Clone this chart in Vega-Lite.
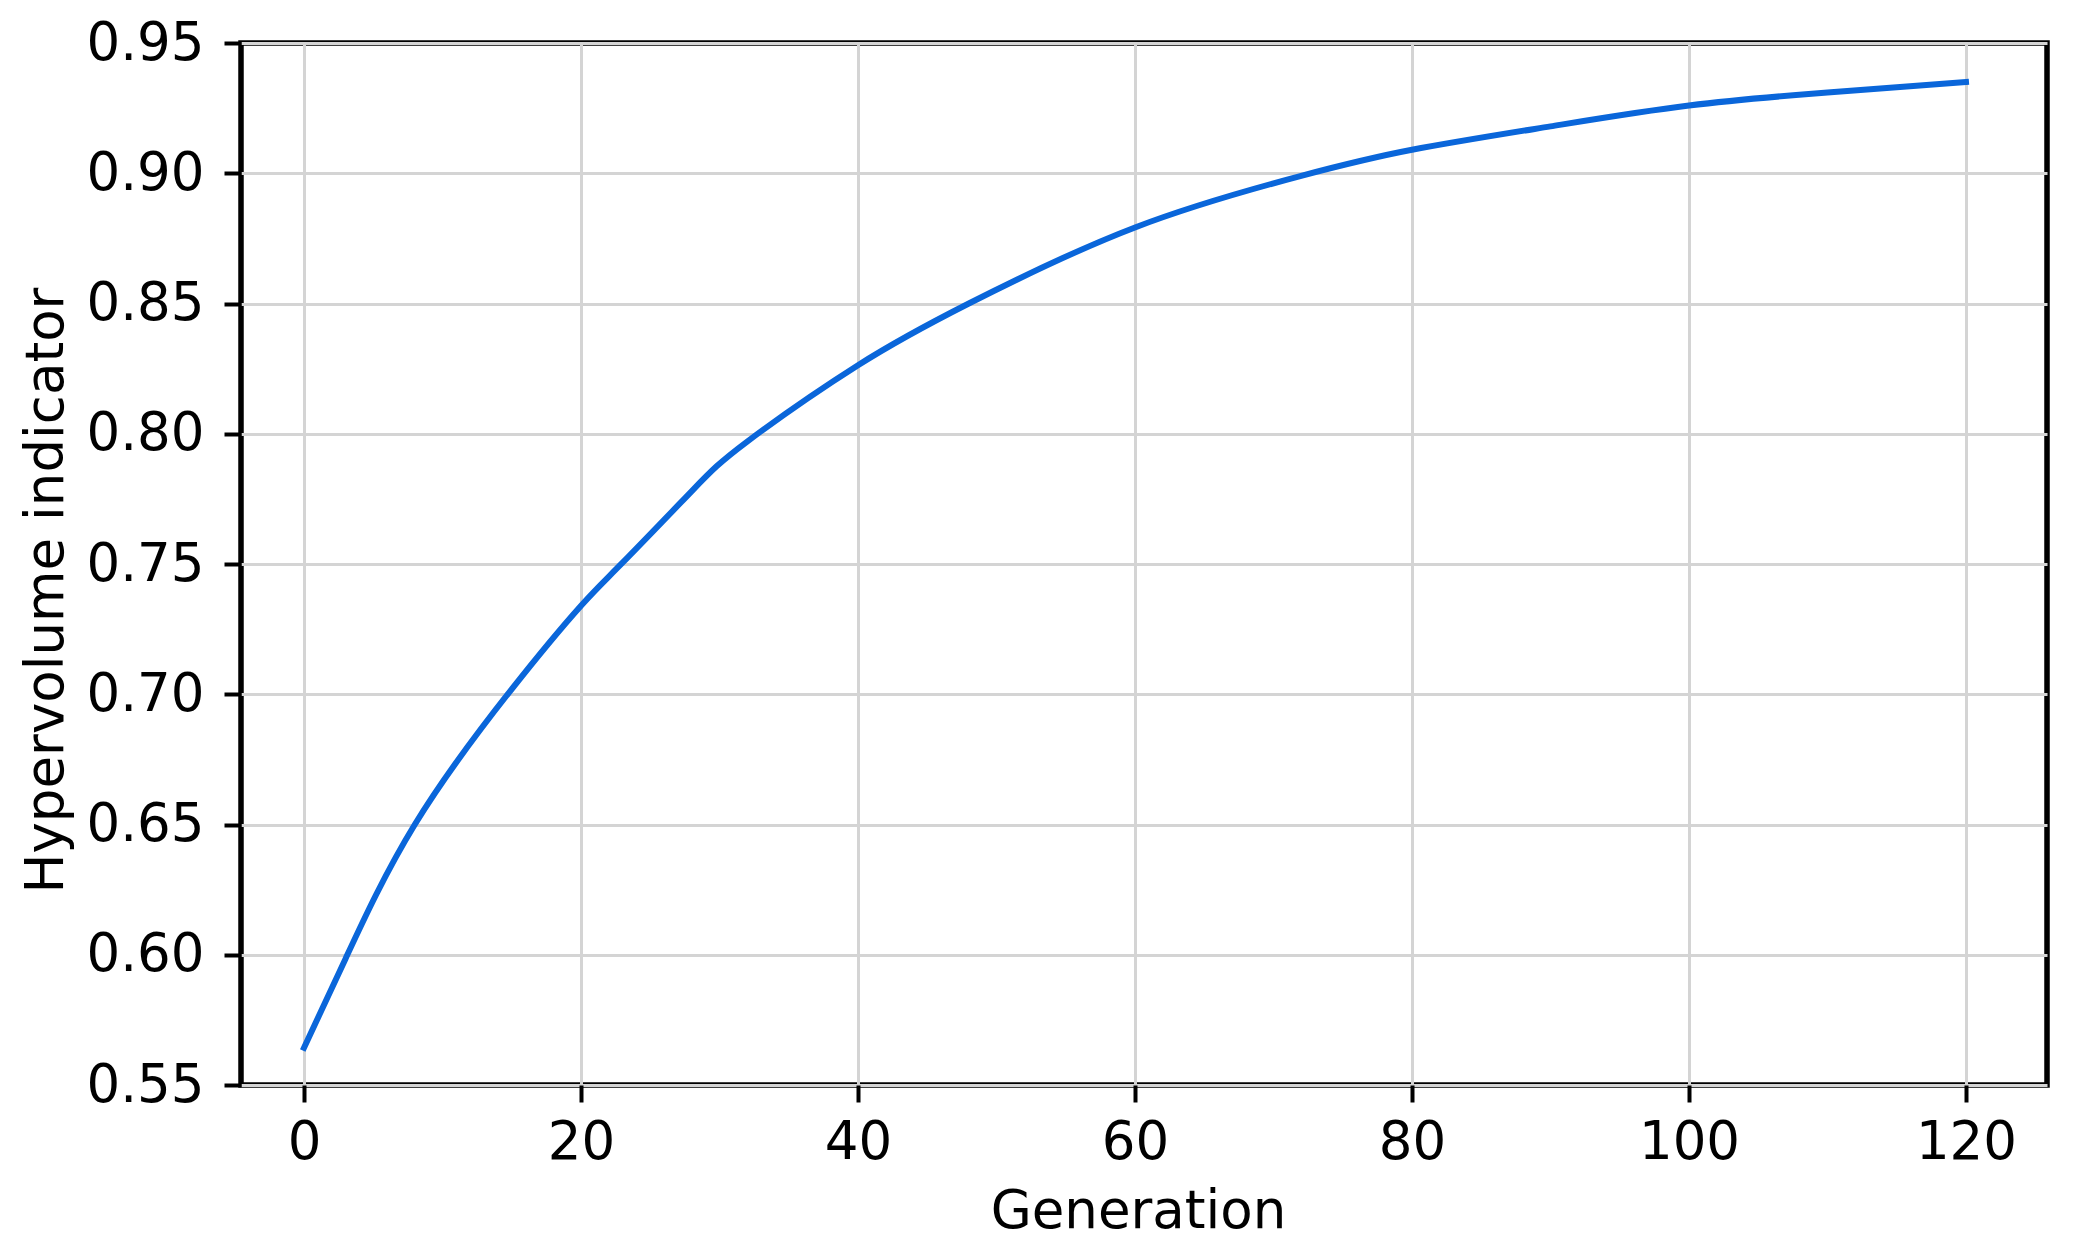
{
  "$schema": "https://vega.github.io/schema/vega-lite/v6.json",
  "width": 1806,
  "height": 1042,
  "autosize": {"type": "none"},
  "padding": {"left": 241, "top": 43, "right": 26, "bottom": 170},
  "background": "white",
  "config": {
    "view": {"stroke": "black", "strokeWidth": 5.5},
    "font": "DejaVu Sans"
  },
  "data": {
    "values": [
      {"Generation": 0, "Hypervolume": 0.5643},
      {"Generation": 3, "Hypervolume": 0.5985},
      {"Generation": 8, "Hypervolume": 0.65},
      {"Generation": 15, "Hypervolume": 0.702},
      {"Generation": 20, "Hypervolume": 0.734},
      {"Generation": 23, "Hypervolume": 0.7505},
      {"Generation": 28, "Hypervolume": 0.778},
      {"Generation": 32, "Hypervolume": 0.797},
      {"Generation": 40, "Hypervolume": 0.8263},
      {"Generation": 48, "Hypervolume": 0.85},
      {"Generation": 60, "Hypervolume": 0.8792},
      {"Generation": 72, "Hypervolume": 0.899},
      {"Generation": 80, "Hypervolume": 0.909},
      {"Generation": 90, "Hypervolume": 0.918},
      {"Generation": 100, "Hypervolume": 0.926},
      {"Generation": 110, "Hypervolume": 0.931},
      {"Generation": 120, "Hypervolume": 0.935}
    ]
  },
  "mark": {
    "type": "line",
    "color": "#0a66da",
    "strokeWidth": 6,
    "strokeCap": "square",
    "interpolate": "natural"
  },
  "encoding": {
    "x": {
      "field": "Generation",
      "type": "quantitative",
      "scale": {"domain": [-4.55, 125.85], "nice": false, "zero": false},
      "axis": {
        "title": "Generation",
        "values": [0, 20, 40, 60, 80, 100, 120],
        "format": "d",
        "domain": false,
        "grid": true,
        "gridColor": "#d4d4d4",
        "gridWidth": 3,
        "tickSize": 17,
        "tickWidth": 4,
        "tickColor": "black",
        "labelFont": "DejaVu Sans",
        "labelFontSize": 53,
        "labelColor": "black",
        "labelPadding": 14,
        "titleFont": "DejaVu Sans",
        "titleFontSize": 53,
        "titleFontWeight": "normal",
        "titleColor": "black",
        "titleX": 897,
        "titleY": 142,
        "titleBaseline": "alphabetic",
        "titleAlign": "center"
      }
    },
    "y": {
      "field": "Hypervolume",
      "type": "quantitative",
      "scale": {"domain": [0.55, 0.95], "nice": false, "zero": false},
      "axis": {
        "title": "Hypervolume indicator",
        "values": [0.55, 0.6, 0.65, 0.7, 0.75, 0.8, 0.85, 0.9, 0.95],
        "format": ".2f",
        "domain": false,
        "grid": true,
        "gridColor": "#d4d4d4",
        "gridWidth": 3,
        "tickSize": 17,
        "tickWidth": 4,
        "tickColor": "black",
        "labelFont": "DejaVu Sans",
        "labelFontSize": 53,
        "labelColor": "black",
        "labelPadding": 20,
        "titleFont": "DejaVu Sans",
        "titleFontSize": 53,
        "titleFontWeight": "normal",
        "titleColor": "black",
        "titleX": -179,
        "titleY": 547,
        "titleAngle": 270,
        "titleBaseline": "alphabetic",
        "titleAlign": "center"
      }
    }
  }
}
